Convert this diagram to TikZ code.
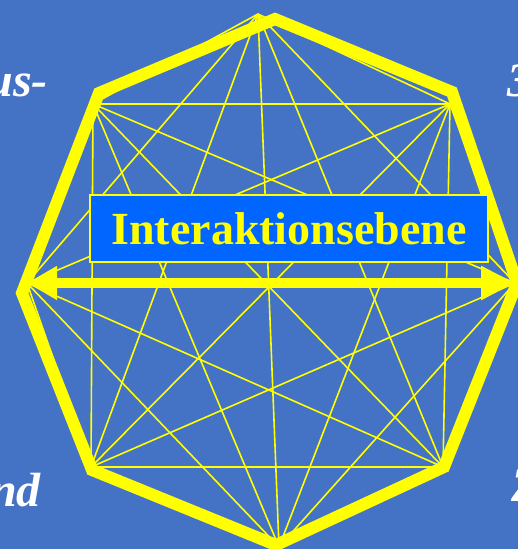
\documentclass[tikz,border=0pt]{standalone}
\usepackage{fontspec}
\setmainfont{Liberation Serif}
\usepackage{xcolor}
\usepackage{tikz}
\usetikzlibrary{arrows.meta,positioning}
\definecolor{slideblue}{HTML}{4472C4}
\definecolor{boxblue}{HTML}{0066FF}
\definecolor{webyellow}{HTML}{FFFF00}

\begin{document}
\begin{tikzpicture}[
  x=1pt,y=-1pt,
  web/.style={draw=webyellow,line width=1.6pt},
  rim/.style={draw=webyellow,line width=12pt,line join=miter},
  flow/.style={draw=webyellow,line width=10pt,
               {Triangle[length=30pt,width=32pt]}-{Triangle[length=34pt,width=32pt]}},
  plane/.style={draw=webyellow,line width=1.5pt,fill=boxblue,
                minimum width=398pt,minimum height=67pt,inner sep=0pt,
                text=webyellow,font=\bfseries\fontsize{46}{46}\selectfont},
  side/.style={text=white,inner sep=0pt,
               font=\bfseries\itshape\fontsize{48}{48}\selectfont},
]

% slide background
\fill[slideblue] (0,0) rectangle (518,549);
\useasboundingbox (0,0) rectangle (518,549);

% corners of the web (every corner joined to every other)
\coordinate (k1) at (258,14);
\coordinate (k2) at (450,104);
\coordinate (k3) at (515,283);
\coordinate (k4) at (443,467);
\coordinate (k5) at (279,547);
\coordinate (k6) at (91,467);
\coordinate (k7) at (27,283);
\coordinate (k8) at (93,104);

\foreach \i in {1,...,7}{
  \pgfmathtruncatemacro\nxt{\i+1}
  \foreach \j in {\nxt,...,8}{
    \draw[web] (k\i) -- (k\j);
  }
}

% the octagon rim
\coordinate (o1) at (275,19);
\coordinate (o2) at (452,92);
\coordinate (o3) at (517,283);
\coordinate (o4) at (444,467);
\coordinate (o5) at (276,545);
\coordinate (o6) at (92,470);
\coordinate (o7) at (22,293);
\coordinate (o8) at (99,93);
\draw[rim] (o1) -- (o2) -- (o3) -- (o4) -- (o5) -- (o6) -- (o7) -- (o8) -- cycle;

% the plane
\draw[flow] (k7) -- (k3);
\node[plane] (ebene) at (289,228.5) {Interaktionsebene};

% cut-off labels at the slide edges
\node[side,anchor=base east] (lblaus) at (48,96) {us-};
\node[side,anchor=base west] (lbldrei) at (507,96) {3};
\node[side,anchor=base east] (lblnd) at (41,506) {nd};
\node[side,anchor=base west] (lblz) at (511,501) {Z};

\end{tikzpicture}
\end{document}
